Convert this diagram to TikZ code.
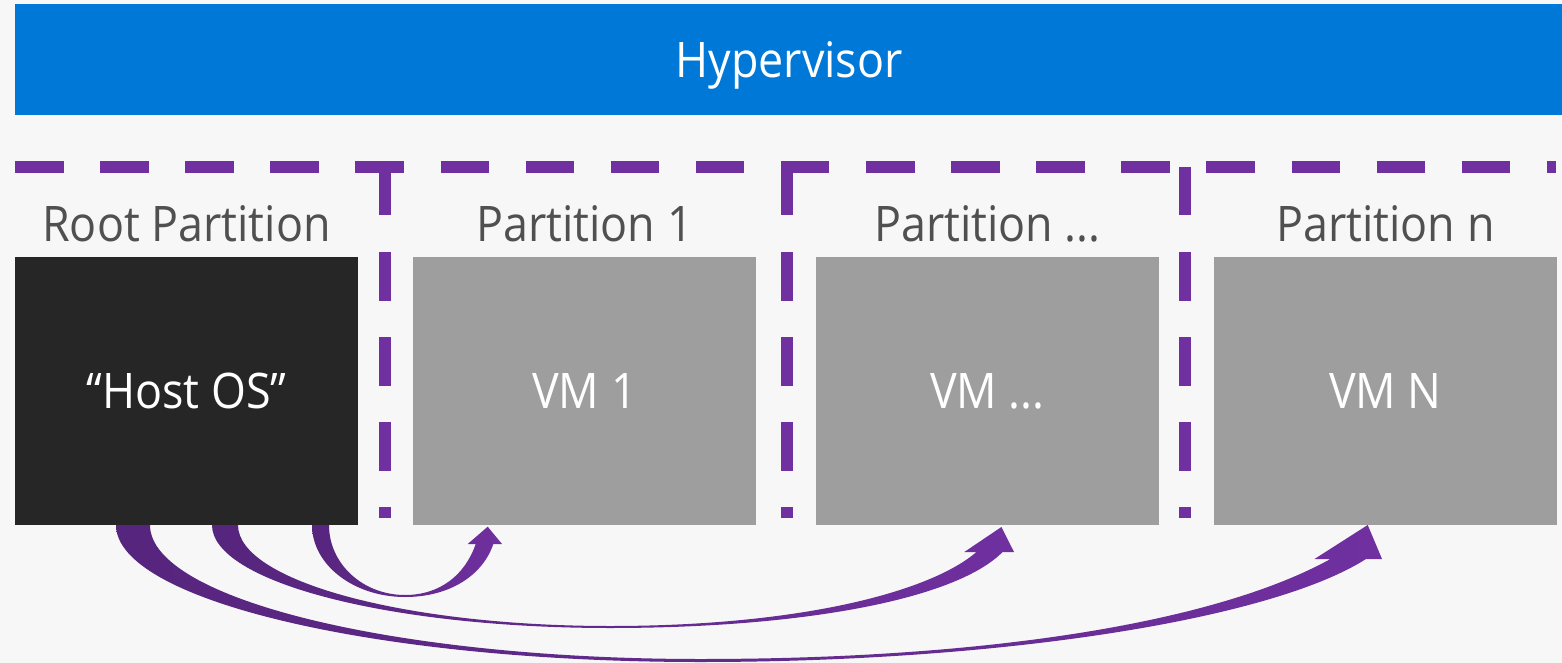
\documentclass[tikz,border=0pt]{standalone}
\usepackage{fontspec}
\setmainfont[FakeStretch=0.915]{Open Sans}
\definecolor{bgc}{HTML}{F7F7F7}
\definecolor{hvblue}{HTML}{0078D7}
\definecolor{hostc}{HTML}{262626}
\definecolor{vmc}{HTML}{9E9E9E}
\definecolor{purp}{HTML}{7030A0}
\definecolor{purpdark}{HTML}{56257D}
\definecolor{lblc}{HTML}{505050}
\tikzset{
  txt/.style={font=\fontsize{24.5}{29}\selectfont},
  vmbox/.style={txt, minimum width=171.5pt, minimum height=134pt, inner sep=0pt, outer sep=0pt, text=white},
  plabel/.style={txt, anchor=base, text=lblc, inner sep=0pt},
  sepline/.style={draw=purp, line width=6pt, dash pattern=on 24.25pt off 18.3pt},
  curvarrow/.style={left color=purpdark, right color=purp}
}
\begin{document}
\begin{tikzpicture}[x=0.5pt,y=-0.5pt]
\fill[bgc] (0,0) rectangle (1562,663);
\useasboundingbox (0,0) rectangle (1562,663);
% hypervisor
\node[fill=hvblue, minimum width=773.5pt, minimum height=55.5pt, inner sep=0pt, outer sep=0pt] (hv) at (788.5,59.5) {};
\node[txt, anchor=base, text=white, inner sep=0pt] (hvt) at (789,77.3) {Hypervisor};
% separators
\draw[sepline] (15,167) -- (1556,167);
\draw[sepline] (384.7,167) -- (384.7,518);
\draw[sepline] (786.7,167) -- (786.7,518);
\draw[sepline] (1184.5,167) -- (1184.5,518);
% labels
\node[plabel] (l0) at (186.5,241.7) {Root Partition};
\node[plabel] (l1) at (584.5,241.7) {Partition 1};
\node[plabel] (l2) at (987.5,241.7) {Partition ...};
\node[plabel] (l3) at (1385.5,241.7) {Partition n};
% boxes
\node[vmbox, fill=hostc] (host) at (186.5,391) {“Host OS”};
\node[vmbox, fill=vmc] (vm1) at (584.5,391) {VM 1};
\node[vmbox, fill=vmc] (vmd) at (987.5,391) {VM ...};
\node[vmbox, fill=vmc] (vmn) at (1385.5,391) {VM N};
% arrow to VM 1
\shade[curvarrow] (312,525) .. controls (312,565) and (354,597) .. (405,597)
  .. controls (450,597) and (483,575) .. (493.3,544)
  -- (502,544) -- (487.7,526.7) -- (467.7,544) -- (475.7,544)
  .. controls (465,575) and (440,595) .. (405,595)
  .. controls (363,595) and (329,564) .. (329,525) -- cycle;
% arrow to VM ...
\shade[curvarrow] (212,525) .. controls (212,582) and (390,628) .. (610,628)
  .. controls (800,628) and (955,600) .. (1002.6,552)
  -- (1014,552) -- (1001.4,527) -- (964.3,552) -- (976.5,552)
  .. controls (930,592) and (800,626) .. (610,626)
  .. controls (405,626) and (238,581) .. (238,525) -- cycle;
% arrow to VM N
\shade[curvarrow] (116,525) .. controls (116,600.6) and (377.6,662) .. (700,662)
  .. controls (1000,662) and (1270,620) .. (1366,559)
  -- (1382,559) -- (1367.7,525) -- (1314.5,559) -- (1330.5,559)
  .. controls (1220,620) and (1000,659) .. (700,659)
  .. controls (396,659) and (150,599) .. (150,525) -- cycle;
\end{tikzpicture}
\end{document}
